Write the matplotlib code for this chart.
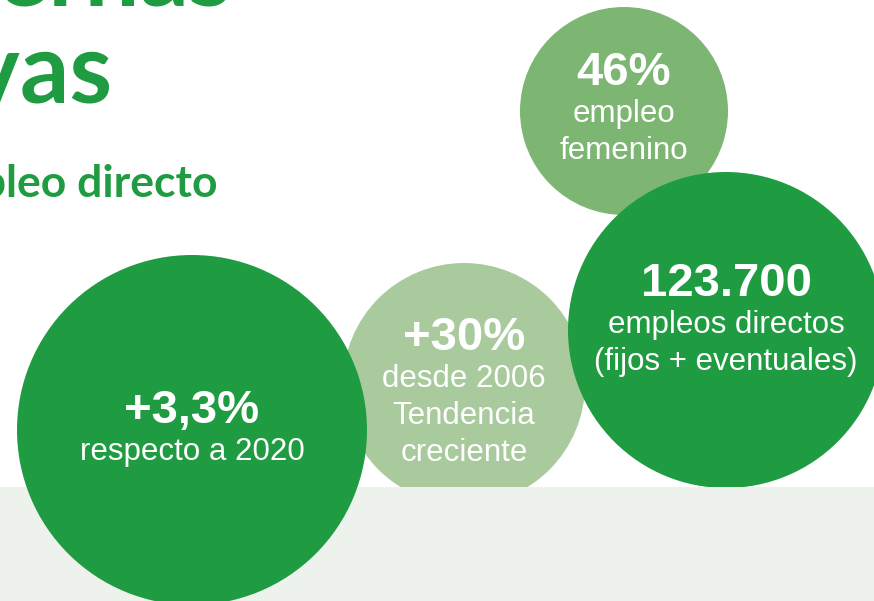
import matplotlib.pyplot as plt
from matplotlib.patches import Circle, Rectangle

# bubble contents
headlines = ["46%", "123.700", "+30%", "+3,3%"]
sublines = [["empleo", "femenino"],
            ["empleos directos", "(fijos + eventuales)"],
            ["desde 2006", "Tendencia", "creciente"],
            ["respecto a 2020"]]

# layout (pixels, y down): centre x, centre y, radius, headline baseline, colour, zorder
layout = [(624, 111, 104, 85, "#7db673", 2),
          (726, 330, 158, 296, "#1f9b41", 3),
          (464, 384, 121, 350, "#a9ca9c", 1),
          (192, 430, 175, 423, "#1f9b41", 5)]

green = "#1f9b41"
band = "#edf3ec"

fig = plt.figure(figsize=(8.74, 6.01), dpi=100)
ax = fig.add_axes([0, 0, 1, 1])
ax.set_xlim(0, 874)
ax.set_ylim(601, 0)
ax.set_aspect("auto")
ax.axis("off")

# light band at the bottom, above the pale bubble but under the big one
ax.add_patch(Rectangle((0, 487), 874, 120, color=band, lw=0, zorder=4))

for (cx, cy, r, base, col, z), head, subs in zip(layout, headlines, sublines):
    ax.add_patch(Circle((cx, cy), r, color=col, lw=0, zorder=z))
    ax.text(cx, base, head, ha="center", va="baseline", color="white",
            fontsize=34, fontweight="bold", family="Liberation Sans", zorder=z)
    for i, s in enumerate(subs):
        ax.text(cx, base + 37 + i * 37, s, ha="center", va="baseline",
                color="white", fontsize=22.5, family="Liberation Sans", zorder=z)

# title pieces, cut at the frame edges like the original crop
ax.text(232, 5, "modernas", ha="right", va="baseline", color=green,
        fontsize=70, family="Lato", fontweight="bold")
ax.text(112, 103, "y competitivas", ha="right", va="baseline", color=green,
        fontsize=70, family="Lato", fontweight="bold")
ax.text(217, 197, "Crecimiento del empleo directo", ha="right", va="baseline",
        color=green, fontsize=32, family="Lato", fontweight="bold")

plt.savefig("out.png", dpi=100)
